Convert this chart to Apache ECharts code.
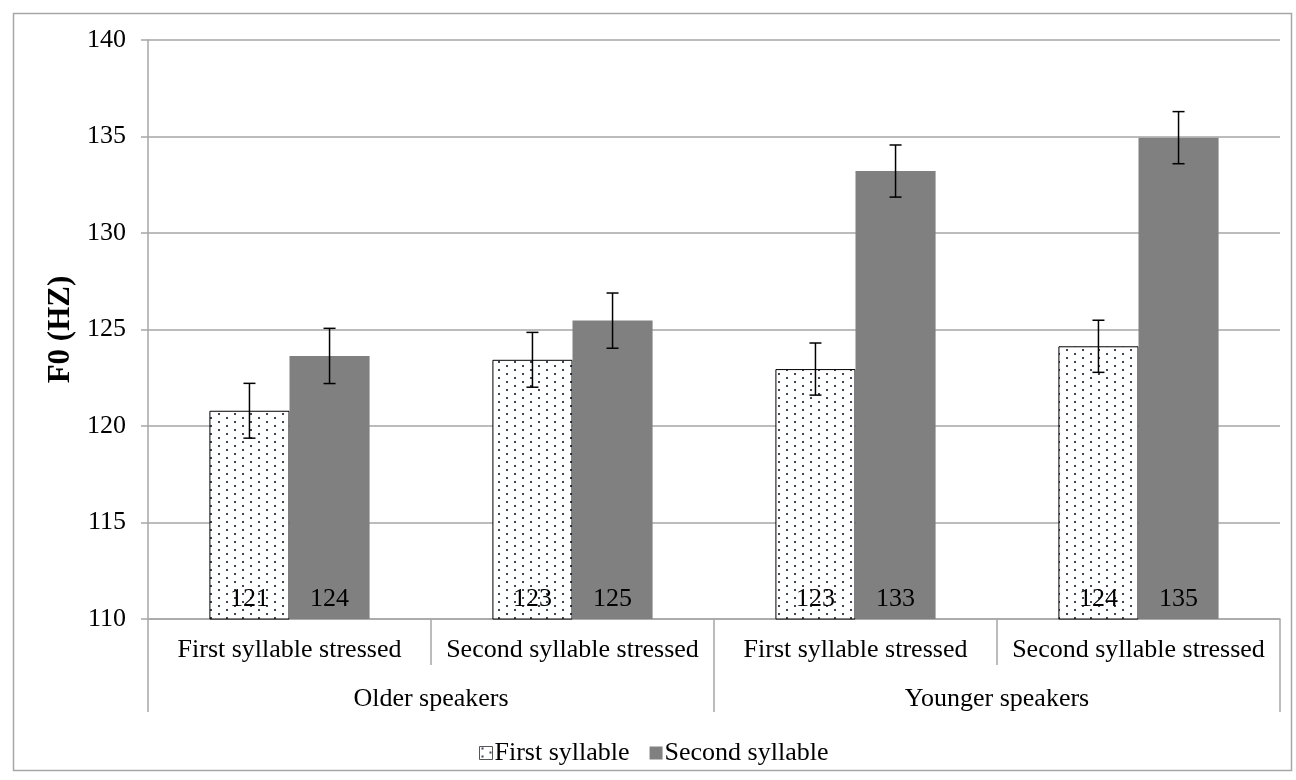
<!DOCTYPE html>
<html>
<head>
<meta charset="utf-8">
<script src="https://cdn.jsdelivr.net/npm/echarts@6/dist/echarts.min.js"></script>
<style>
html,body{margin:0;padding:0;background:#fff;}
#chart{width:1296px;height:780px;}
</style>
</head>
<body>
<div id="chart"></div>
<script>
// ---- Data ----
var conditions = ['First syllable stressed', 'Second syllable stressed', 'First syllable stressed', 'Second syllable stressed'];
var groups = ['Older speakers', 'Younger speakers'];
var seriesNames = ['First syllable', 'Second syllable'];
var firstSyllable = [120.79, 123.43, 122.95, 124.13];
var secondSyllable = [123.63, 125.46, 133.21, 134.94];
var firstErr = [1.42, 1.42, 1.35, 1.35];
var secondErr = [1.43, 1.43, 1.35, 1.35];
var yTicks = { min: 110, max: 140, interval: 5 };

var FONT = "'Liberation Serif', 'Times New Roman', serif";
var FS = 26;

// dotted pattern
function makeDots() {
  var c = document.createElement('canvas');
  c.width = 16; c.height = 8;
  var ctx = c.getContext('2d');
  ctx.fillStyle = '#ffffff';
  ctx.fillRect(0, 0, 16, 8);
  ctx.fillStyle = '#3c4658';
  ctx.fillRect(2, 1, 2, 2);
  ctx.fillRect(10, 5, 2, 2);
  return c;
}
var dots = { image: makeDots(), repeat: 'repeat' };

var BAR_FRAC = 0.283;

function errData(vals, errs) {
  return vals.map(function (v, i) { return [i, v - errs[i], v + errs[i]]; });
}
function errRender(sign) {
  return function (params, api) {
    var band = api.size([1, 0])[0];
    var off = sign * band * BAR_FRAC / 2;
    var lo = api.coord([api.value(0), api.value(1)]);
    var hi = api.coord([api.value(0), api.value(2)]);
    var x = lo[0] + off;
    var cap = 6;
    var st = { stroke: '#000', lineWidth: 1.5 };
    return {
      type: 'group',
      children: [
        { type: 'line', shape: { x1: x, y1: lo[1], x2: x, y2: hi[1] }, style: st },
        { type: 'line', shape: { x1: x - cap, y1: lo[1], x2: x + cap, y2: lo[1] }, style: st },
        { type: 'line', shape: { x1: x - cap, y1: hi[1], x2: x + cap, y2: hi[1] }, style: st }
      ]
    };
  };
}

var chart = echarts.init(document.getElementById('chart'), null, { renderer: 'canvas' });
var labelCfg = {
  show: true, position: 'insideBottom', distance: 7,
  color: '#000', fontSize: FS, fontFamily: FONT,
  formatter: function (p) { return Math.round(p.value); }
};
chart.setOption({
  animation: false,
  backgroundColor: '#fff',
  textStyle: { fontFamily: FONT },
  graphic: [{
    type: 'rect', left: 11, top: 11,
    shape: { width: 1278, height: 757 },
    style: { fill: 'none', stroke: '#a6a6a6', lineWidth: 1.5 },
    silent: true
  }],
  grid: { left: 148, right: 16, top: 40, bottom: 161 },
  legend: {
    left: 474, top: 735,
    itemWidth: 13, itemHeight: 13, itemGap: 20,
    icon: 'rect',
    textStyle: { fontSize: FS, fontFamily: FONT, color: '#000', padding: [0, 0, 0, -3] },
    data: [
      { name: seriesNames[0], itemStyle: { borderWidth: 1, borderColor: '#555' } },
      { name: seriesNames[1] }
    ]
  },
  xAxis: [{
    type: 'category', data: conditions, position: 'bottom',
    axisLine: { show: true, lineStyle: { color: '#a6a6a6', width: 1.5 } },
    axisTick: { show: true, interval: 0, length: 46, lineStyle: { color: '#a6a6a6', width: 1.5 } },
    axisLabel: { interval: 0, margin: 18, fontSize: FS, fontFamily: FONT, color: '#000' }
  }, {
    type: 'category', data: groups, position: 'bottom', offset: 0,
    axisLine: { show: false },
    axisTick: { show: true, interval: 0, length: 93, lineStyle: { color: '#a6a6a6', width: 1.5 } },
    axisLabel: { interval: 0, margin: 67, fontSize: FS, fontFamily: FONT, color: '#000' }
  }],
  yAxis: {
    type: 'value', min: yTicks.min, max: yTicks.max, interval: yTicks.interval,
    name: 'F0 (HZ)', nameLocation: 'middle', nameGap: 72,
    nameTextStyle: { fontSize: 31, fontWeight: 'bold', fontFamily: FONT, color: '#000' },
    axisLine: { show: true, lineStyle: { color: '#a6a6a6', width: 1.5 } },
    axisTick: { show: true, length: 7, lineStyle: { color: '#a6a6a6', width: 1.5 } },
    axisLabel: { margin: 22, fontSize: FS, fontFamily: FONT, color: '#000' },
    splitLine: { show: true, lineStyle: { color: '#a6a6a6', width: 1.5 } }
  },
  series: [{
    name: seriesNames[0], type: 'bar', xAxisIndex: 0,
    data: firstSyllable, barWidth: (BAR_FRAC * 100) + '%', barGap: '0%',
    itemStyle: { color: dots, borderColor: '#000', borderWidth: 1 },
    label: labelCfg
  }, {
    name: seriesNames[1], type: 'bar', xAxisIndex: 0,
    data: secondSyllable, barWidth: (BAR_FRAC * 100) + '%', barGap: '0%',
    itemStyle: { color: '#808080' },
    label: labelCfg
  }, {
    type: 'custom', xAxisIndex: 0, renderItem: errRender(-1),
    data: errData(firstSyllable, firstErr), z: 10, silent: true,
    encode: { x: 0, y: [1, 2] }
  }, {
    type: 'custom', xAxisIndex: 0, renderItem: errRender(1),
    data: errData(secondSyllable, secondErr), z: 10, silent: true,
    encode: { x: 0, y: [1, 2] }
  }]
});
</script>
</body>
</html>
